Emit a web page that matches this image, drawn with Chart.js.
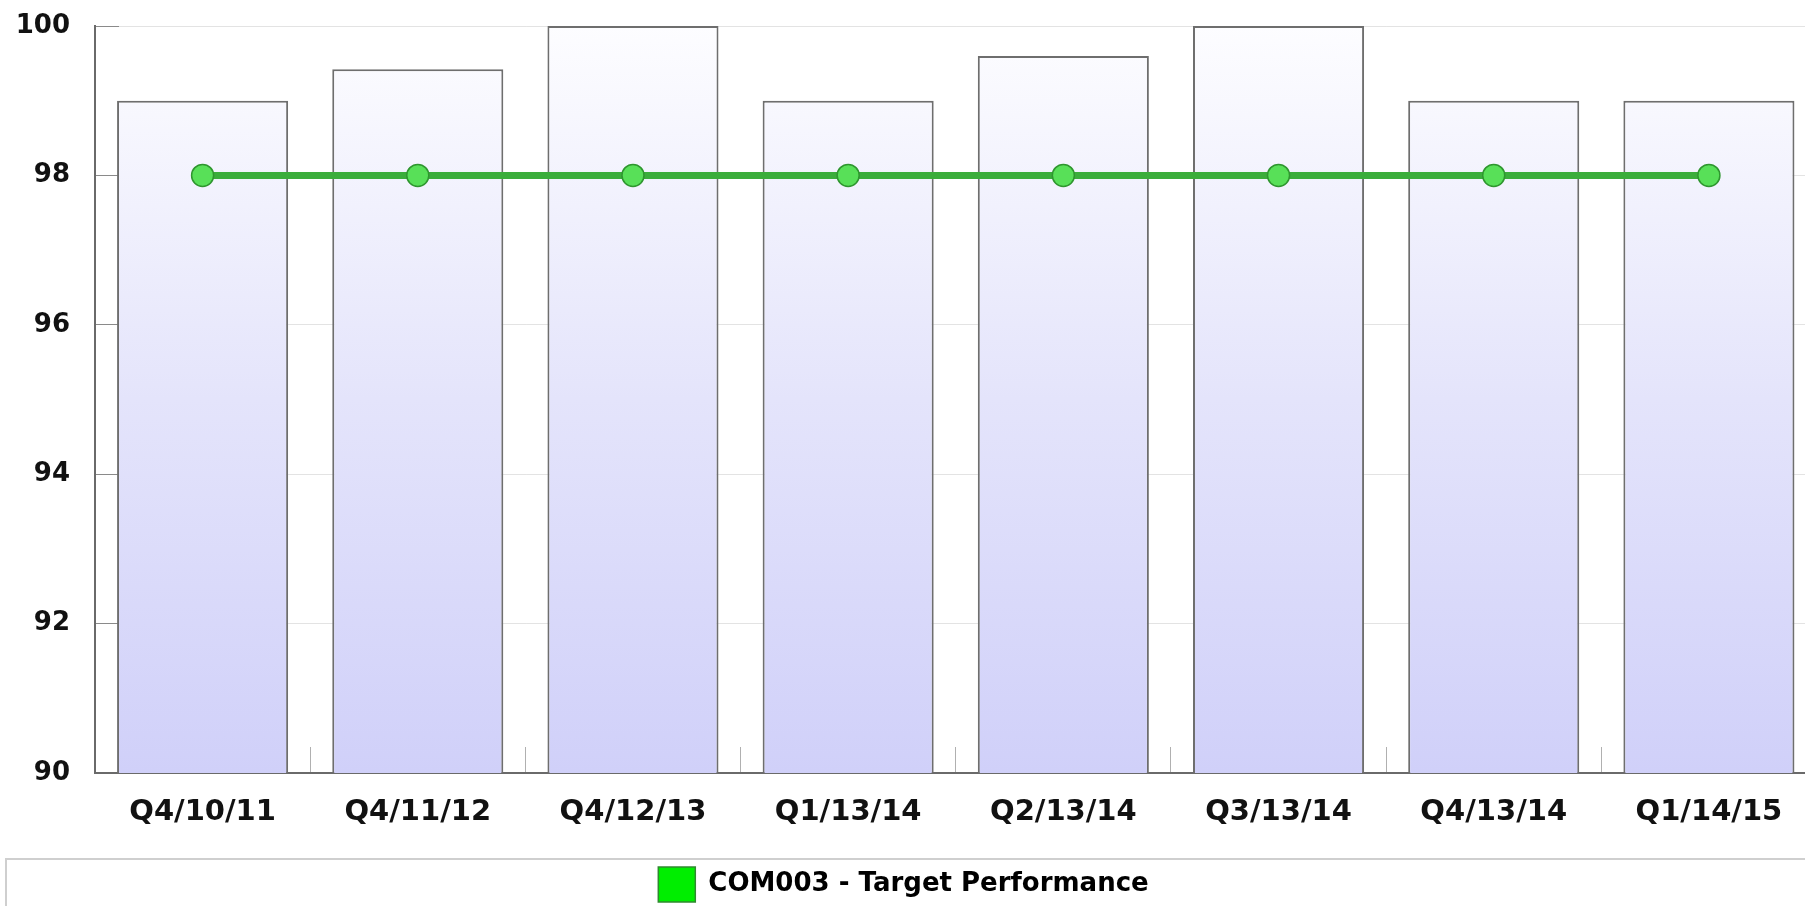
<!DOCTYPE html>
<html lang="en">
<head>
  <meta charset="UTF-8">
  <title>COM003 - Performance</title>
  <script src="https://cdn.jsdelivr.net/npm/chart.js"></script>
  <style>
    html, body {
      margin: 0;
      padding: 0;
      background: #fff;
      overflow: hidden;
      font-family: "DejaVu Sans", Verdana, sans-serif;
    }
    #wrap {
      position: absolute;
      left: 0;
      top: 0;
      width: 1829px;
      height: 912px;
    }
    #legendFrame {
      position: absolute;
      left: 5px;
      top: 858px;
      width: 1900px;
      height: 100px;
      border: 2px solid #cfcfcf;
      box-sizing: border-box;
    }
  </style>
</head>
<body>
  <div id="legendFrame"></div>
  <div id="wrap">
    <canvas id="perfChart"></canvas>
  </div>

  <script>
    const quarters = ['Q4/10/11', 'Q4/11/12', 'Q4/12/13', 'Q1/13/14', 'Q2/13/14', 'Q3/13/14', 'Q4/13/14', 'Q1/14/15'];
    const actualValues = [99, 99.42, 100, 99, 99.6, 100, 99, 99];
    const targetValues = [98, 98, 98, 98, 98, 98, 98, 98];
    const yTicks = [90, 92, 94, 96, 98, 100];

    const actualLabel = 'COM003 - Actual Performance';
    const targetLabel = 'COM003 - Target Performance';

    function barGradient(context) {
      const area = context.chart.chartArea;
      if (!area) return '#e4e4fa';
      const g = context.chart.ctx.createLinearGradient(0, area.bottom, 0, area.top);
      g.addColorStop(0, '#d0d0f9');
      g.addColorStop(0.5, '#e4e4fb');
      g.addColorStop(1, '#fdfdff');
      return g;
    }

    // the plot runs a little past the window, so pull the legend back to the visible centre
    const legendShift = {
      id: 'legendShift',
      afterLayout(chart) {
        chart.legend.left -= 11;
        chart.legend.right -= 11;
      }
    };

    const ctx = document.getElementById('perfChart').getContext('2d');
    new Chart(ctx, {
      data: {
        labels: quarters,
        datasets: [
          {
            type: 'line',
            label: targetLabel,
            data: targetValues,
            order: 0,
            borderColor: '#3bad3b',
            borderWidth: 7,
            backgroundColor: '#00ee00',
            pointRadius: 11,
            pointHoverRadius: 11,
            pointBackgroundColor: '#58e058',
            pointBorderColor: '#2f962f',
            pointBorderWidth: 1.5,
            tension: 0
          },
          {
            type: 'bar',
            label: actualLabel,
            data: actualValues,
            order: 1,
            backgroundColor: barGradient,
            borderColor: '#6e6e6e',
            borderWidth: 2,
            borderSkipped: false,
            barPercentage: 0.795,
            categoryPercentage: 1
          }
        ]
      },
      plugins: [legendShift],
      options: {
        responsive: true,
        maintainAspectRatio: false,
        animation: false,
        layout: {
          padding: { top: 26, right: 0, bottom: 0, left: 0 }
        },
        plugins: {
          tooltip: { enabled: false },
          legend: {
            position: 'bottom',
            labels: {
              boxWidth: 37,
              boxHeight: 35,
              padding: 8,
              color: '#111',
              font: { family: 'DejaVu Sans', size: 26, weight: 'bold' },
              generateLabels: () => [{
                text: targetLabel,
                fillStyle: '#00ee00',
                strokeStyle: '#2f8a2f',
                lineWidth: 1.5,
                hidden: false,
                datasetIndex: 0
              }]
            }
          }
        },
        scales: {
          x: {
            offset: true,
            afterFit: s => {
              s.height = 86;
              s.paddingLeft = 0;
              s.paddingRight = 0;
            },
            grid: {
              offset: true,
              drawOnChartArea: false,
              drawTicks: true,
              tickLength: -26,
              tickColor: '#b0b0b0',
              tickWidth: 1
            },
            border: { display: true, color: '#6a6a6a', width: 2 },
            ticks: {
              padding: 48,
              color: '#111',
              font: { family: 'DejaVu Sans', size: 29, weight: 'bold' }
            }
          },
          y: {
            min: 90,
            max: 100,
            z: 1,
            afterFit: s => {
              s.width = 95;
              s.paddingTop = 0;
              s.paddingBottom = 0;
            },
            afterBuildTicks: s => { s.ticks = yTicks.map(v => ({ value: v })); },
            grid: {
              color: 'rgba(0, 0, 0, 0.11)',
              drawTicks: true,
              tickLength: -24,
              tickColor: '#8a8a8a',
              tickWidth: 1
            },
            border: { display: true, color: '#6a6a6a', width: 2 },
            ticks: {
              padding: 49,
              color: '#111',
              font: { family: 'DejaVu Sans', size: 26, weight: 'bold' }
            }
          }
        }
      }
    });
  </script>
</body>
</html>
